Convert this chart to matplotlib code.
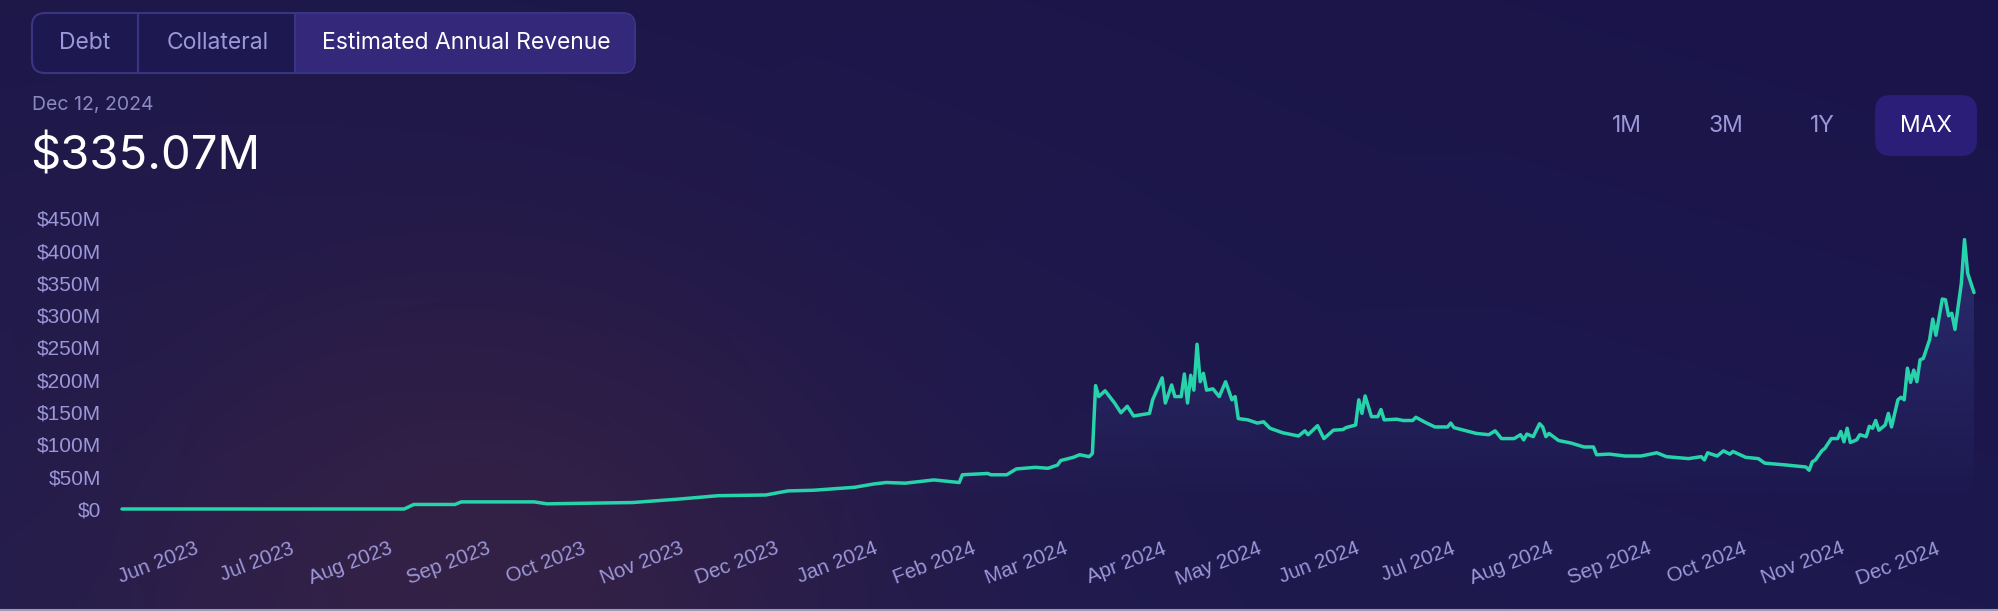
import matplotlib
matplotlib.use("Agg")
import matplotlib.pyplot as plt
import matplotlib.dates as mdates
from matplotlib.patches import FancyBboxPatch, Rectangle
from matplotlib.ticker import FuncFormatter
import numpy as np
import pandas as pd

# values, $M
dates = [
    "2023-05-08", "2023-08-05", "2023-08-08", "2023-08-21", "2023-08-23", "2023-09-15", "2023-09-19", "2023-10-16", "2023-10-31", "2023-11-12",
    "2023-11-27", "2023-12-04", "2023-12-12", "2023-12-25", "2023-12-31", "2024-01-04", "2024-01-10", "2024-01-19", "2024-01-27", "2024-01-28",
    "2024-02-05", "2024-02-06", "2024-02-11", "2024-02-14", "2024-02-20", "2024-02-24", "2024-02-27", "2024-02-28", "2024-03-03", "2024-03-05",
    "2024-03-08", "2024-03-09", "2024-03-10", "2024-03-11", "2024-03-13", "2024-03-16", "2024-03-18", "2024-03-20", "2024-03-22", "2024-03-27",
    "2024-03-28", "2024-03-31", "2024-04-01", "2024-04-03", "2024-04-04", "2024-04-06", "2024-04-07", "2024-04-08", "2024-04-09", "2024-04-10",
    "2024-04-11", "2024-04-12", "2024-04-13", "2024-04-14", "2024-04-16", "2024-04-18", "2024-04-20", "2024-04-22", "2024-04-23", "2024-04-24",
    "2024-04-27", "2024-04-30", "2024-05-02", "2024-05-04", "2024-05-08", "2024-05-13", "2024-05-15", "2024-05-16", "2024-05-19", "2024-05-21",
    "2024-05-24", "2024-05-27", "2024-05-28", "2024-05-31", "2024-06-01", "2024-06-02", "2024-06-03", "2024-06-05", "2024-06-07", "2024-06-08",
    "2024-06-09", "2024-06-13", "2024-06-15", "2024-06-18", "2024-06-19", "2024-06-22", "2024-06-25", "2024-06-29", "2024-06-30", "2024-07-01",
    "2024-07-08", "2024-07-12", "2024-07-14", "2024-07-16", "2024-07-20", "2024-07-22", "2024-07-23", "2024-07-24", "2024-07-26", "2024-07-28",
    "2024-07-29", "2024-07-30", "2024-07-31", "2024-08-03", "2024-08-07", "2024-08-11", "2024-08-14", "2024-08-15", "2024-08-19", "2024-08-24",
    "2024-08-29", "2024-09-03", "2024-09-06", "2024-09-13", "2024-09-17", "2024-09-18", "2024-09-19", "2024-09-22", "2024-09-24", "2024-09-26",
    "2024-09-27", "2024-10-01", "2024-10-05", "2024-10-07", "2024-10-14", "2024-10-20", "2024-10-21", "2024-10-22", "2024-10-23", "2024-10-25",
    "2024-10-26", "2024-10-28", "2024-10-30", "2024-10-31", "2024-11-01", "2024-11-02", "2024-11-03", "2024-11-05", "2024-11-06", "2024-11-08",
    "2024-11-09", "2024-11-10", "2024-11-11", "2024-11-12", "2024-11-14", "2024-11-15", "2024-11-16", "2024-11-18", "2024-11-19", "2024-11-20",
    "2024-11-21", "2024-11-22", "2024-11-23", "2024-11-24", "2024-11-25", "2024-11-26", "2024-11-28", "2024-11-29", "2024-11-30", "2024-12-02",
    "2024-12-03", "2024-12-04", "2024-12-05", "2024-12-06", "2024-12-08", "2024-12-09", "2024-12-10", "2024-12-11", "2024-12-12",
]
revenue_m = [
    0, 0, 7, 7, 11, 11, 8, 10, 15.5, 20.6,
    21.7, 28, 29, 33.6, 38.7, 41, 40, 45, 41, 53,
    55, 53, 53, 62, 64.5, 63, 68, 75, 80, 84,
    81, 86, 191, 174, 183, 164, 149, 159, 144, 148,
    169, 203, 164, 192, 174, 174, 209, 164, 207, 184,
    255, 197, 210, 184, 186, 174, 197, 169, 174, 140,
    138, 133, 135, 125, 118, 113, 121, 115, 129, 109,
    122, 123, 126, 130, 169, 148, 175, 143, 143, 154,
    138, 139, 137, 137, 142, 134, 127, 127, 133, 126,
    117, 115, 121, 109, 109, 115, 107, 116, 112, 132,
    127, 112, 117, 106, 102, 96, 96, 84, 85, 82,
    82, 87, 81, 78, 81, 76, 87, 82, 90, 85,
    89, 80, 78, 71, 68, 65, 60, 73, 76, 90,
    94, 109, 109, 120, 104, 125, 103, 107, 115, 112,
    128, 125, 137, 122, 130, 148, 127, 169, 173, 169,
    218, 196, 215, 197, 231, 233, 262, 294, 269, 325,
    324, 299, 303, 278, 349, 417, 365, 350, 335.07,
]
y_ticks = [0, 50, 100, 150, 200, 250, 300, 350, 400, 450]
tick_months = pd.date_range("2023-06-01", "2024-12-01", freq="MS")
tabs = ["Debt", "Collateral", "Estimated Annual Revenue"]
ranges = ["1M", "3M", "1Y", "MAX"]
current_date = "Dec 12, 2024"
current_value = "$335.07M"

LINE = "#27d3ab"
LAVENDER = "#9c97d8"
W, H = 1999, 611

df = pd.DataFrame({"date": pd.to_datetime(dates), "rev": revenue_m})

fig = plt.figure(figsize=(W / 100, H / 100), dpi=100)

# background gradient with a warm glow bottom-left
bg = fig.add_axes([0, 0, 1, 1], zorder=-10)
yy, xx = np.mgrid[0:1:H * 1j, 0:1:W * 1j]
top = np.array([30, 24, 74])
bot = np.array([33, 28, 78])
img = top + (bot - top) * yy[..., None]
img = img - np.array([4, 4, 0]) * xx[..., None]
glow = np.exp(-(((xx - 0.24) / 0.2) ** 2 + ((yy - 0.95) / 0.55) ** 2))
img = img + np.array([20, 6, -8]) * glow[..., None]
bg.imshow(np.clip(img, 0, 255).astype(np.uint8), aspect="auto", extent=[0, W, H, 0])
bg.set_xlim(0, W)
bg.set_ylim(H, 0)
bg.axis("off")

# chart
ax = fig.add_axes([122 / W, (H - 509) / H, (1974 - 122) / W, (509 - 218.3) / H])
ax.set_facecolor("none")
x0, x1 = df["date"].iloc[0], df["date"].iloc[-1]

fill = ax.fill_between(df["date"], df["rev"], 0, color="none", lw=0)
grad = np.zeros((256, 1, 4))
grad[..., 0] = 80 / 255
grad[..., 1] = 100 / 255
grad[..., 2] = 200 / 255
grad[:, 0, 3] = np.linspace(0.0, 0.32, 256)
gi = ax.imshow(grad, aspect="auto", origin="lower",
               extent=[mdates.date2num(x0), mdates.date2num(x1), 0, 450], zorder=1)
gi.set_clip_path(fill.get_paths()[0], transform=ax.transData)

ax.plot(df["date"], df["rev"], color=LINE, lw=2.5, solid_joinstyle="round",
        solid_capstyle="round", clip_on=False, zorder=3)

ax.set_xlim(x0, x1)
ax.set_ylim(0, 450)
ax.set_yticks(y_ticks)
ax.yaxis.set_major_formatter(FuncFormatter(lambda v, p: "$0" if v == 0 else f"${v:.0f}M"))
ax.set_xticks(tick_months)
ax.set_xticklabels([d.strftime("%b %Y") for d in tick_months])
for lab in ax.get_xticklabels():
    lab.set_rotation(21)
    lab.set_ha("right")
    lab.set_va("center")
    lab.set_rotation_mode("anchor")
ax.tick_params(axis="x", length=0, pad=28, labelsize=14.8, labelcolor=LAVENDER)
ax.tick_params(axis="y", length=0, pad=15, labelsize=15, labelcolor=LAVENDER)
for lab in ax.get_xticklabels() + ax.get_yticklabels():
    lab.set_family("Liberation Sans")
for s in ax.spines.values():
    s.set_visible(False)

# UI overlay in pixel coordinates
ui = fig.add_axes([0, 0, 1, 1], zorder=5)
ui.set_xlim(0, W)
ui.set_ylim(H, 0)
ui.axis("off")
ui.patch.set_alpha(0)

ui.add_patch(FancyBboxPatch((32, 13), 603, 60, boxstyle="round,pad=0,rounding_size=13",
                            fc="#1e1851", ec="#3a3484", lw=1.5))
ui.add_patch(FancyBboxPatch((295, 14), 339, 58, boxstyle="round,pad=0,rounding_size=12",
                            fc="#33287a", ec="none"))
ui.add_patch(Rectangle((295, 14), 20, 58, fc="#33287a", ec="none"))
for xd in (138, 295):
    ui.plot([xd, xd], [14, 72], color="#3a3484", lw=1.5)
tab_x = [85, 218, 466]
for t, xc in zip(tabs, tab_x):
    ui.text(xc, 43, t, ha="center", va="center", family="Inter", fontsize=16.5,
            color="white" if t == tabs[-1] else LAVENDER)

ui.text(32, 105, current_date, ha="left", va="center", family="Inter",
        fontsize=14, color="#8c88c2")
ui.text(30, 158, current_value, ha="left", va="center", family="Inter",
        fontsize=34, color="white")

ui.add_patch(FancyBboxPatch((1875, 95), 102, 61, boxstyle="round,pad=0,rounding_size=16",
                            fc="#2a1e79", ec="none"))
range_x = [1627, 1726, 1822, 1926]
for r, xc in zip(ranges, range_x):
    ui.text(xc, 126, r, ha="center", va="center", family="Inter", fontsize=16.5,
            color="white" if r == "MAX" else LAVENDER)

ui.plot([0, W], [610, 610], color="#9d9bb4", lw=1.5)

fig.savefig("out.png", dpi=100)
